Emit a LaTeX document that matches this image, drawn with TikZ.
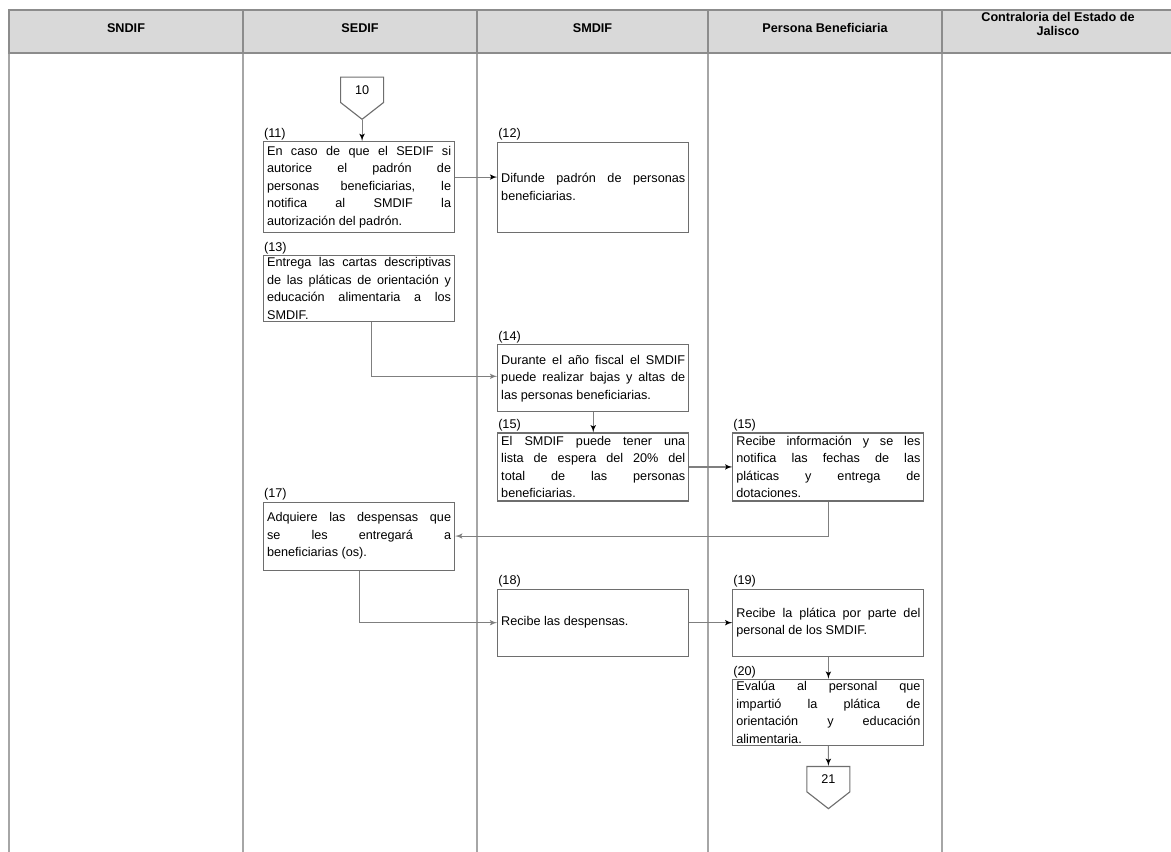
\documentclass[tikz,border=0pt]{standalone}
\usepackage{fontspec}
\setmainfont{Liberation Sans}
\usepackage{tikz}
\usetikzlibrary{arrows,positioning,shapes.symbols}
\definecolor{boxgray}{HTML}{6E6E6E}
\definecolor{linegray}{HTML}{7F7F7F}
\definecolor{lanegray}{HTML}{A6A6A6}
\definecolor{headfill}{HTML}{D9D9D9}
\definecolor{headline}{HTML}{8C8C8C}
\tolerance=10000
\hbadness=10000

\begin{document}
\begin{tikzpicture}[>=latex']
        \tikzset{block/.style={draw=boxgray, line width=0.8pt, rectangle, align=justify, text width=4.6cm, minimum width=4.775cm, inner xsep=2.5pt, inner ysep=0.5pt, font=\fontsize{9}{12.45}\selectfont},
        num/.style={anchor=south west, inner sep=0.6pt, font=\fontsize{9}{11}\selectfont},
        offpage/.style={draw=boxgray, line width=0.8pt, shape=signal, signal to=south, signal pointer angle=104, minimum width=1.075cm, minimum height=0.8cm, inner sep=1pt, font=\fontsize{9}{11}\selectfont},
        head/.style={align=center, font=\bfseries\fontsize{9}{10.5}\selectfont},
        lane/.style={draw=lanegray, line width=1.1pt},
        line/.style={draw=linegray, line width=0.8pt, ->}
        }
        \useasboundingbox (0,0) rectangle (29.275,-21.275);
%% lanes and header
        \foreach \x in {0.225,6.075,11.925,17.7,23.55,29.45}
            \draw[lane] (\x,-1.325) -- (\x,-21.3);
        \draw[draw=headline, fill=headfill, line width=1.4pt] (0.225,-0.25) rectangle (29.45,-1.325);
        \foreach \x in {6.075,11.925,17.7,23.55}
            \draw[draw=headline, line width=1.4pt] (\x,-0.25) -- (\x,-1.325);
        \node [head] (hsndif) at (3.15,-0.7) {SNDIF};
        \node [head] (hsedif) at (9,-0.7) {SEDIF};
        \node [head] (hsmdif) at (14.8125,-0.7) {SMDIF};
        \node [head] (hpers) at (20.625,-0.7) {Persona Beneficiaria};
        \node [head] (hcontr) at (26.45,-0.6) {Contraloria del Estado de\\ Jalisco};

%% steps
        \node [block, minimum height=2.275cm, anchor=north west, label={[num]north west:(11)}] (b11) at (6.575,-3.525) {En caso de que el SEDIF si\linebreak autorice el padrón de\linebreak personas beneficiarias, le\linebreak notifica al SMDIF la\linebreak autorización del padrón.};
        \node [offpage, above=0.525cm of b11, xshift=0.075cm] (p10) {10};
        \node [block, minimum height=2.25cm, right=1.05cm of b11, label={[num]north west:(12)}] (b12) {Difunde padrón de personas\linebreak beneficiarias.};
        \node [block, minimum height=1.65cm, below=0.55cm of b11, label={[num]north west:(13)}] (b13) {Entrega las cartas descriptivas\linebreak de las pláticas de orientación y\linebreak educación alimentaria a los\linebreak SMDIF.};
        \node [block, minimum height=1.675cm, below right=0.55cm and 1.05cm of b13, label={[num]north west:(14)}] (b14) {Durante el año fiscal el SMDIF\linebreak puede realizar bajas y altas de\linebreak las personas beneficiarias.};
        \node [block, minimum height=1.7cm, below=0.5cm of b14, label={[num]north west:(15)}] (b15) {El SMDIF puede tener una\linebreak lista de espera del 20\% del\linebreak total de las personas\linebreak beneficiarias.};
        \node [block, minimum height=1.7cm, right=1.075cm of b15, label={[num]north west:(15)}] (b16) {Recibe información y se les\linebreak notifica las fechas de las\linebreak pláticas y entrega de\linebreak dotaciones.};
        \node [block, minimum height=1.7cm, below left=0cm and 1.05cm of b15, label={[num]north west:(17)}] (b17) {Adquiere las despensas que\linebreak se les entregará a\linebreak beneficiarias (os).};
        \node [block, minimum height=1.675cm, below right=0.45cm and 1.05cm of b17, label={[num]north west:(18)}] (b18) {Recibe las despensas.};
        \node [block, minimum height=1.675cm, right=1.075cm of b18, label={[num]north west:(19)}] (b19) {Recibe la plática por parte del\linebreak personal de los SMDIF.};
        \node [block, minimum height=1.65cm, below=0.55cm of b19, label={[num]north west:(20)}] (b20) {Evalúa al personal que\linebreak impartió la plática de\linebreak orientación y educación\linebreak alimentaria.};
        \node [offpage, below=0.5cm of b20] (p21) {21};

%% paths
        \draw[line] ([xshift=0.3cm]b13.south) |- ([yshift=0.05cm]b14.west);
        \draw[line] (b16.south) |- (b17.east);
        \path[line] (p10.south) edge (p10.south |- b11.north)
                    ([yshift=0.25cm]b11.east) edge ([yshift=0.25cm]b11.east -| b12.west)
                    (b14) edge (b15)
                    (b15) edge (b16)
                    (b18) edge (b19)
                    (b19) edge (b20)
                    (b20) edge (p21)
                    (b17.south) |- (b18.west)
                    ;
\end{tikzpicture}
\end{document}
